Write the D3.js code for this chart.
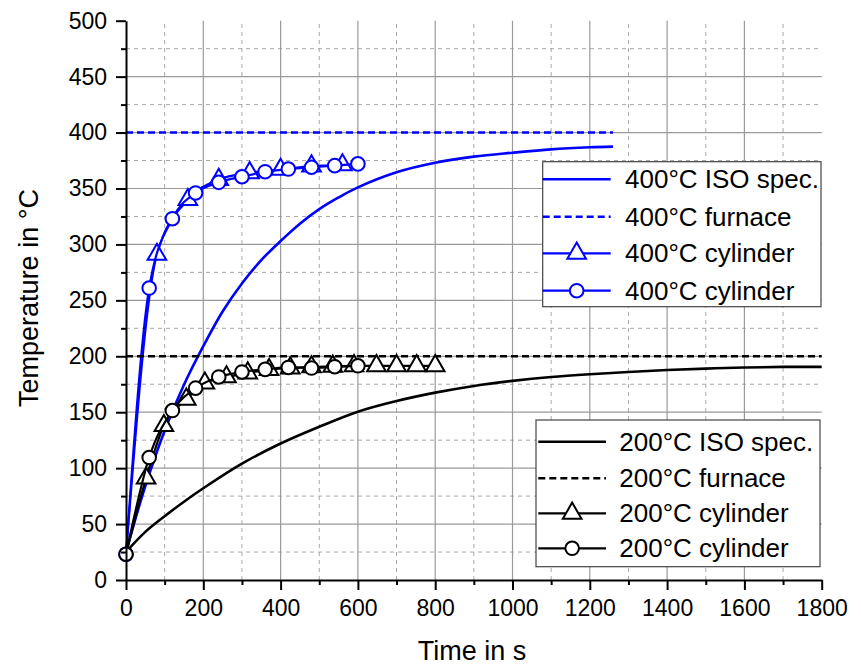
<!DOCTYPE html>
<html>
<head>
<meta charset="utf-8">
<script src="https://cdn.jsdelivr.net/npm/d3@7"></script>
<style>
  html, body { margin: 0; padding: 0; background: #fff; }
  svg { display: block; font-family: "Liberation Sans", Arial, sans-serif; }
</style>
</head>
<body>
<svg id="chart" width="861" height="668"></svg>
<script>
// ---- data -------------------------------------------------------------
// ISO specification curves (time in s, temperature in °C)
const isoTime400 = [0, 50, 100, 150, 200, 250, 300, 350, 400, 450, 500, 550, 600, 700, 800, 900, 1000, 1100, 1200, 1260];
const isoTemp400 = [25, 84, 133.5, 174.5, 209, 240, 265, 286, 303, 318.5, 331.5, 342, 351, 364.5, 373, 378.5, 382, 385, 386.8, 387.4];
const isoTime200 = [0, 50, 100, 150, 200, 300, 400, 500, 600, 700, 800, 900, 1000, 1100, 1200, 1300, 1400, 1500, 1600, 1700, 1800];
const isoTemp200 = [25, 43, 57, 70, 82, 104, 122, 137, 150.5, 160, 167.5, 173.5, 178, 181.5, 184, 186, 187.7, 189, 190, 190.5, 190.5];

// furnace set points
const furnaceTime400 = [0, 1260];
const furnaceTemp400 = [400, 400];
const furnaceTime200 = [0, 1800];
const furnaceTemp200 = [200, 200];

// cylinder measurements, triangle series (first value is the start reading)
const triTime400 = [0, 80, 160, 240, 320, 400, 480, 560];
const triTemp400 = [23, 291, 340, 358, 364, 367, 370, 371];
const triTime200 = [0, 52, 98, 156, 204, 260, 315, 370, 425, 480, 535, 590, 648, 700, 752, 800];
const triTemp200 = [23, 91, 138, 161.5, 176, 181.5, 185, 188, 189.5, 190.5, 191, 191.5, 191.5, 191.5, 191.5, 191.5];

// cylinder measurements, circle series
const cirTime400 = [0, 60, 120, 180, 240, 300, 360, 420, 480, 540, 600];
const cirTemp400 = [23, 261, 323, 346, 355.5, 360.5, 365, 367.4, 369, 370.4, 372];
const cirTime200 = [0, 60, 120, 180, 240, 300, 360, 420, 480, 540, 600];
const cirTemp200 = [23, 109.5, 151.5, 171.5, 181.5, 186, 188.3, 190, 189.5, 190.7, 191.5];

// axis ticks
const xMajorTicks = [0, 200, 400, 600, 800, 1000, 1200, 1400, 1600, 1800];
const xMinorTicks = [100, 300, 500, 700, 900, 1100, 1300, 1500, 1700];
const yMajorTicks = [0, 50, 100, 150, 200, 250, 300, 350, 400, 450, 500];
const yMinorTicks = [25, 75, 125, 175, 225, 275, 325, 375, 425, 475];

const legend400 = ["400°C ISO spec.", "400°C furnace", "400°C cylinder", "400°C cylinder"];
const legend200 = ["200°C ISO spec.", "200°C furnace", "200°C cylinder", "200°C cylinder"];

// ---- layout -----------------------------------------------------------
const BLUE = "#0000ff", BLACK = "#000000";
const svg = d3.select("#chart");
const x = d3.scaleLinear().domain([0, 1800]).range([126, 821.7]);
const y = d3.scaleLinear().domain([0, 500]).range([580, 20.7]);

const zip = (ts, vs) => ts.map((t, i) => [t, vs[i]]);

// ---- grid -------------------------------------------------------------
const grid = svg.append("g");
grid.selectAll(".vmin").data(xMinorTicks).join("line")
  .attr("x1", d => x(d)).attr("x2", d => x(d))
  .attr("y1", y(0)).attr("y2", y(500))
  .attr("stroke", "#a8a8a8").attr("stroke-width", 1).attr("stroke-dasharray", "4,4");
grid.selectAll(".hmin").data(yMinorTicks).join("line")
  .attr("x1", x(0)).attr("x2", x(1800))
  .attr("y1", d => y(d)).attr("y2", d => y(d))
  .attr("stroke", "#a8a8a8").attr("stroke-width", 1).attr("stroke-dasharray", "4,4");
grid.selectAll(".vmaj").data(xMajorTicks.filter(d => d > 0 && d < 1800)).join("line")
  .attr("x1", d => x(d)).attr("x2", d => x(d))
  .attr("y1", y(0)).attr("y2", y(500))
  .attr("stroke", "#9a9a9a").attr("stroke-width", 1.2);
grid.selectAll(".hmaj").data(yMajorTicks.filter(d => d > 0 && d < 500)).join("line")
  .attr("x1", x(0)).attr("x2", x(1800))
  .attr("y1", d => y(d)).attr("y2", d => y(d))
  .attr("stroke", "#9a9a9a").attr("stroke-width", 1.2);

// ---- series -----------------------------------------------------------
const isoLine = d3.line().x(d => x(d[0])).y(d => y(d[1])).curve(d3.curveCatmullRom.alpha(0.5));
const smooth = d3.line().x(d => x(d[0])).y(d => y(d[1])).curve(d3.curveMonotoneX);
const straight = d3.line().x(d => x(d[0])).y(d => y(d[1]));

const triPath = d3.symbol().type(d3.symbolTriangle).size(150);

function drawSeries(color, iso, furnace, tri, cir) {
  const g = svg.append("g");
  g.append("path").attr("d", isoLine(iso)).attr("fill", "none")
    .attr("stroke", color).attr("stroke-width", 2.6);
  g.append("path").attr("d", straight(furnace)).attr("fill", "none")
    .attr("stroke", color).attr("stroke-width", 2.6).attr("stroke-dasharray", "7,4");
  g.append("path").attr("d", smooth(tri)).attr("fill", "none")
    .attr("stroke", color).attr("stroke-width", 2.2);
  // the start reading sits under the circle marker, so triangles begin after it
  g.selectAll(".tri").data(tri.slice(1)).join("path")
    .attr("d", triPath)
    .attr("transform", d => `translate(${x(d[0])},${y(d[1])})`)
    .attr("fill", "#fff").attr("stroke", color).attr("stroke-width", 2);
  g.append("path").attr("d", smooth(cir)).attr("fill", "none")
    .attr("stroke", color).attr("stroke-width", 2.2);
  g.selectAll(".cir").data(cir).join("circle")
    .attr("cx", d => x(d[0])).attr("cy", d => y(d[1])).attr("r", 6.8)
    .attr("fill", "#fff").attr("stroke", color).attr("stroke-width", 2);
}

drawSeries(BLUE, zip(isoTime400, isoTemp400), zip(furnaceTime400, furnaceTemp400),
  zip(triTime400, triTemp400), zip(cirTime400, cirTemp400));
drawSeries(BLACK, zip(isoTime200, isoTemp200), zip(furnaceTime200, furnaceTemp200),
  zip(triTime200, triTemp200), zip(cirTime200, cirTemp200));

// ---- axes -------------------------------------------------------------
const axisStyle = sel => {
  sel.select(".domain").attr("stroke-width", 2);
  sel.selectAll(".tick line").attr("stroke-width", 2);
  sel.selectAll(".tick text").attr("font-size", 23).attr("fill", "#000")
    .attr("font-family", "Liberation Sans, Arial, sans-serif");
};

svg.append("g").attr("transform", `translate(0,${y(0)})`)
  .call(d3.axisBottom(x).tickValues(xMinorTicks).tickSize(5).tickFormat(""))
  .call(g => g.select(".domain").remove())
  .call(g => g.selectAll(".tick line").attr("stroke-width", 2));
svg.append("g").attr("transform", `translate(${x(0)},0)`)
  .call(d3.axisLeft(y).tickValues(yMinorTicks).tickSize(5).tickFormat(""))
  .call(g => g.select(".domain").remove())
  .call(g => g.selectAll(".tick line").attr("stroke-width", 2));

svg.append("g").attr("transform", `translate(0,${y(0)})`)
  .call(d3.axisBottom(x).tickValues(xMajorTicks).tickSize(10).tickSizeOuter(0).tickPadding(10).tickFormat(d3.format("d")))
  .call(axisStyle);
svg.append("g").attr("transform", `translate(${x(0)},0)`)
  .call(d3.axisLeft(y).tickValues(yMajorTicks).tickSize(10).tickSizeOuter(0).tickPadding(9).tickFormat(d3.format("d")))
  .call(axisStyle);

svg.append("text").attr("x", 472).attr("y", 660).attr("text-anchor", "middle")
  .attr("font-size", 27).text("Time in s");
svg.append("text").attr("transform", "translate(38,298) rotate(-90)")
  .attr("text-anchor", "middle").attr("font-size", 27).text("Temperature in °C");

// ---- legends ----------------------------------------------------------
function drawLegend(box, labels, color, rowY, sample, textX) {
  const g = svg.append("g");
  g.append("rect").attr("x", box[0]).attr("y", box[1]).attr("width", box[2]).attr("height", box[3])
    .attr("fill", "#fff").attr("stroke", "#444").attr("stroke-width", 1.2);
  const [sx1, sx2] = sample;
  const mx = (sx1 + sx2) / 2;
  labels.forEach((lab, i) => {
    const ry = rowY[i];
    const ln = g.append("line").attr("x1", sx1).attr("x2", sx2).attr("y1", ry).attr("y2", ry)
      .attr("stroke", color).attr("stroke-width", i < 2 ? 2.6 : 2.2);
    if (i === 1) ln.attr("stroke-dasharray", "7,4");
    if (i === 2) g.append("path").attr("d", triPath).attr("transform", `translate(${mx},${ry})`)
      .attr("fill", "#fff").attr("stroke", color).attr("stroke-width", 2);
    if (i === 3) g.append("circle").attr("cx", mx).attr("cy", ry).attr("r", 6.8)
      .attr("fill", "#fff").attr("stroke", color).attr("stroke-width", 2);
    g.append("text").attr("x", textX).attr("y", ry).attr("dy", "0.35em")
      .attr("font-size", 26).attr("fill", "#000").text(lab);
  });
}

drawLegend([542.7, 161.7, 278.3, 145], legend400, BLUE, [179.3, 216.7, 253.3, 290.7], [542.7, 610.7], 625);
drawLegend([536, 420, 284, 146.7], legend200, BLACK, [441.7, 478.3, 513.3, 548.3], [538.3, 606], 619.3);
</script>
</body>
</html>
